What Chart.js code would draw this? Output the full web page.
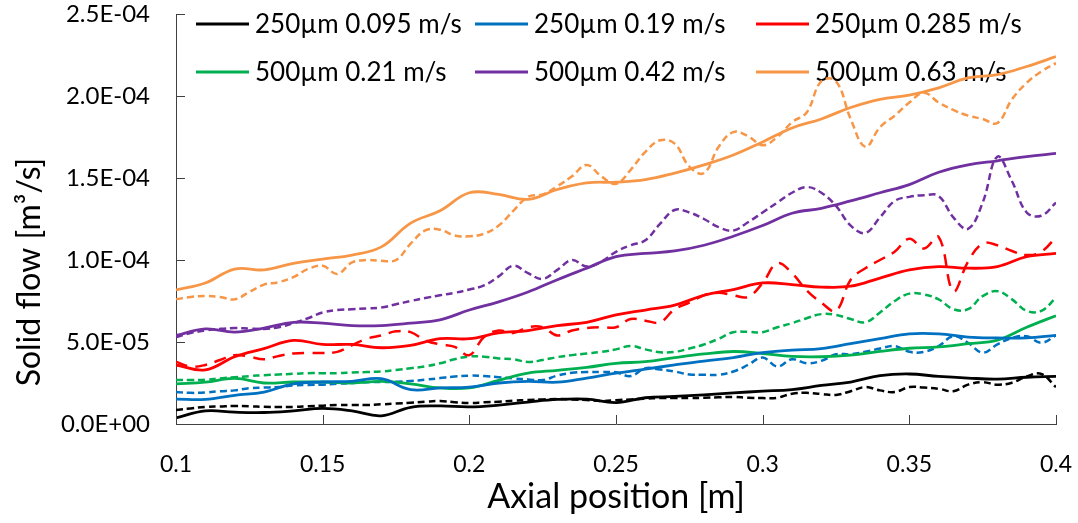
<!DOCTYPE html>
<html>
<head>
<meta charset="utf-8">
<title>Solid flow vs axial position</title>
<script src="https://cdn.jsdelivr.net/npm/chart.js@4.4.1/dist/chart.umd.min.js"></script>
<style>
  html, body { margin: 0; padding: 0; background: #fff; }
  #wrap { width: 1078px; height: 523px; }
</style>
</head>
<body>
<div id="wrap"><canvas id="flowChart"></canvas></div>
<script>
// axial positions [m]
const posCoarse = [0.10, 0.11, 0.12, 0.13, 0.14, 0.15, 0.16, 0.17, 0.18, 0.19, 0.20,
  0.21, 0.22, 0.23, 0.24, 0.25, 0.26, 0.27, 0.28, 0.29, 0.30,
  0.31, 0.32, 0.33, 0.34, 0.35, 0.36, 0.37, 0.38, 0.39, 0.40];
const posFine = [0.100, 0.105, 0.110, 0.115, 0.120, 0.125, 0.130, 0.135, 0.140, 0.145,
  0.150, 0.155, 0.160, 0.165, 0.170, 0.175, 0.180, 0.185, 0.190, 0.195,
  0.200, 0.205, 0.210, 0.215, 0.220, 0.225, 0.230, 0.235, 0.240, 0.245,
  0.250, 0.255, 0.260, 0.265, 0.270, 0.275, 0.280, 0.285, 0.290, 0.295,
  0.300, 0.305, 0.310, 0.315, 0.320, 0.325, 0.330, 0.335, 0.340, 0.345,
  0.350, 0.355, 0.360, 0.365, 0.370, 0.375, 0.380, 0.385, 0.390, 0.395, 0.400];

const xTicks = [0.1, 0.15, 0.2, 0.25, 0.3, 0.35, 0.4];
const yTicks = [0, 5e-5, 1e-4, 1.5e-4, 2e-4, 2.5e-4];

// solid flow, in units of 1e-5 m3/s
// solid lines (on posCoarse)
const s250_095 = [0.37, 0.8, 0.72, 0.7, 0.8, 0.95, 0.8, 0.5, 1.02, 1.1, 1.04, 1.15, 1.34, 1.5, 1.52, 1.3,
  1.6, 1.68, 1.78, 1.9, 2.0, 2.1, 2.35, 2.56, 2.95, 3.05, 2.9, 2.8, 2.74, 2.85, 2.9];
const s250_019 = [1.52, 1.5, 1.75, 1.95, 2.45, 2.56, 2.6, 2.76, 2.1, 2.2, 2.25, 2.5, 2.6, 2.55, 2.8, 3.1,
  3.35, 3.6, 3.84, 4.05, 4.35, 4.5, 4.6, 4.9, 5.2, 5.5, 5.5, 5.3, 5.25, 5.25, 5.4];
const s250_0285 = [3.6, 3.3, 4.1, 4.6, 5.1, 4.85, 4.85, 4.65, 4.8, 5.2, 5.2, 5.55, 5.7, 6.0, 6.2, 6.65,
  6.95, 7.25, 7.85, 8.2, 8.6, 8.5, 8.35, 8.4, 8.9, 9.4, 9.6, 9.5, 9.6, 10.2, 10.4];
const s500_021 = [2.45, 2.55, 2.78, 2.5, 2.56, 2.56, 2.5, 2.6, 2.45, 2.2, 2.2, 2.66, 3.1, 3.27, 3.45, 3.7,
  3.8, 4.05, 4.27, 4.42, 4.3, 4.12, 4.1, 4.2, 4.43, 4.62, 4.7, 4.9, 5.12, 5.9, 6.6];
const s500_042 = [5.4, 5.8, 5.6, 5.85, 6.2, 6.15, 6.0, 6.0, 6.15, 6.35, 6.95, 7.45, 8.05, 8.8, 9.5, 10.2,
  10.4, 10.55, 10.9, 11.45, 12.1, 12.85, 13.15, 13.6, 14.1, 14.6, 15.35, 15.8, 16.05, 16.3, 16.5];
const s500_063 = [8.17, 8.6, 9.45, 9.4, 9.8, 10.06, 10.3, 10.8, 12.25, 13.0, 14.1, 14.0, 13.7, 14.3, 14.7, 14.75,
  14.9, 15.3, 15.8, 16.4, 17.2, 18.05, 18.6, 19.3, 19.8, 20.06, 20.5, 21.1, 21.3, 21.8, 22.4];

// dashed lines (on posFine)
const d250_095 = [0.85, 0.95, 1.04, 1.07, 1.1, 1.08, 1.05, 1.04, 1.04, 1.08, 1.12, 1.16, 1.16, 1.16, 1.2, 1.25,
  1.3, 1.36, 1.4, 1.33, 1.28, 1.32, 1.36, 1.42, 1.46, 1.5, 1.52, 1.5, 1.46, 1.4, 1.45, 1.5, 1.55, 1.58, 1.58,
  1.58, 1.6, 1.63, 1.65, 1.6, 1.58, 1.6, 1.85, 1.9, 1.83, 1.77, 2.0, 2.25, 2.05, 1.95, 2.25, 2.22, 2.15, 2.0,
  2.4, 2.55, 2.4, 2.52, 2.9, 3.05, 2.25];
const d250_019 = [1.95, 1.9, 1.92, 2.0, 2.05, 2.18, 2.22, 2.26, 2.35, 2.38, 2.4, 2.45, 2.5, 2.55, 2.56, 2.58,
  2.62, 2.7, 2.8, 2.9, 2.95, 2.92, 2.85, 2.78, 2.72, 2.68, 2.95, 3.12, 3.17, 3.17, 3.15, 2.92, 3.4, 3.32, 3.2,
  3.02, 3.0, 3.0, 3.2, 3.6, 4.05, 3.5, 3.95, 3.7, 3.85, 4.25, 4.25, 4.4, 4.6, 4.75, 4.4, 4.4, 4.75, 5.35,
  4.95, 4.35, 4.85, 5.25, 5.35, 4.95, 5.4];
const d250_0285 = [3.8, 3.5, 3.6, 3.9, 4.2, 4.1, 3.95, 4.15, 4.3, 4.33, 4.33, 4.4, 4.8, 5.2, 5.4, 5.65,
  5.6, 5.1, 4.85, 4.7, 4.2, 5.3, 5.7, 5.55, 5.9, 5.9, 5.4, 5.7, 5.85, 5.9, 5.9, 6.4, 6.3, 6.2, 7.0,
  7.4, 7.85, 8.0, 7.85, 7.75, 8.6, 9.8, 9.2, 8.15, 7.4, 6.9, 8.8, 9.5, 10.0, 10.5, 11.3, 10.7, 11.4, 8.1,
  9.9, 11.0, 10.9, 10.55, 10.3, 10.5, 11.4];
const d500_021 = [2.68, 2.68, 2.7, 2.78, 2.85, 2.92, 2.98, 3.02, 3.06, 3.1, 3.1, 3.1, 3.14, 3.17, 3.2, 3.29,
  3.4, 3.52, 3.7, 3.95, 4.12, 4.1, 4.0, 3.95, 3.78, 3.9, 4.08, 4.2, 4.3, 4.4, 4.55, 4.76, 4.55, 4.38, 4.4,
  4.6, 4.85, 5.2, 5.6, 5.62, 5.6, 5.9, 6.15, 6.45, 6.7, 6.65, 6.4, 6.2, 6.8, 7.5, 7.95, 7.9, 7.6, 7.0,
  7.0, 7.8, 8.1, 7.6, 6.9, 6.9, 7.7];
const d500_042 = [5.3, 5.55, 5.7, 5.8, 5.85, 5.82, 5.8, 5.9, 6.15, 6.45, 6.8, 6.95, 7.0, 7.05, 7.1, 7.3,
  7.5, 7.68, 7.85, 8.0, 8.2, 8.45, 9.0, 9.65, 9.2, 8.85, 9.4, 10.0, 9.6, 9.9, 10.5, 10.9, 11.2, 12.2, 13.05,
  12.9, 12.5, 12.0, 11.8, 12.3, 12.9, 13.5, 14.1, 14.45, 14.1, 13.3, 12.1, 11.65, 12.6, 13.6, 13.85, 13.95,
  13.9, 12.6, 11.9, 13.5, 16.3, 14.8, 12.9, 12.7, 13.5];
const d500_063 = [7.6, 7.75, 7.8, 7.75, 7.6, 8.05, 8.5, 8.65, 8.95, 9.45, 9.65, 9.15, 9.85, 10.0, 9.95, 10.0,
  11.0, 11.8, 11.85, 11.5, 11.45, 11.6, 12.1, 13.0, 13.85, 14.0, 14.5, 15.1, 15.8, 15.1, 14.65, 15.5, 16.6,
  17.3, 17.1, 15.7, 15.3, 16.9, 17.8, 17.55, 17.0, 17.5, 18.4, 19.0, 20.9, 20.9, 18.6, 16.9, 18.1, 18.8,
  19.6, 20.2, 19.6, 19.15, 18.8, 18.6, 18.35, 19.8, 20.8, 21.5, 22.0];

const seriesNames = ['250µm 0.095 m/s', '250µm 0.19 m/s', '250µm 0.285 m/s',
  '500µm 0.21 m/s', '500µm 0.42 m/s', '500µm 0.63 m/s'];
const seriesColors = ['#000000', '#0070C0', '#FF0000', '#00B050', '#7030A0', '#F79646'];
const solidSeries = [s250_095, s250_019, s250_0285, s500_021, s500_042, s500_063];
const dashedSeries = [d250_095, d250_019, d250_0285, d500_021, d500_042, d500_063];

const FONT = 'Lato';
const Y_TITLE = 'Solid flow [m³/s]';

function toPoints(xs, vals) {
  return vals.map((v, i) => ({ x: xs[i], y: v * 1e-5 }));
}

function sciLabel(v) {
  const [m, e] = Number(v).toExponential(1).split('e');
  const n = parseInt(e, 10);
  return m + 'E' + (n < 0 ? '-' : '+') + String(Math.abs(n)).padStart(2, '0');
}

const datasets = [];
solidSeries.forEach((vals, i) => {
  datasets.push({
    label: seriesNames[i],
    data: toPoints(posCoarse, vals),
    borderColor: seriesColors[i],
    borderWidth: 2.8,
    pointRadius: 0,
    tension: 0.4,
    fill: false
  });
});
dashedSeries.forEach((vals, i) => {
  datasets.push({
    label: seriesNames[i] + ' (dashed)',
    data: toPoints(posFine, vals),
    borderColor: seriesColors[i],
    borderWidth: 2.5,
    borderDash: i === 2 ? [12, 8] : [7, 4],
    pointRadius: 0,
    tension: 0.4,
    fill: false
  });
});

// legend drawn Excel-style in a 3 x 2 grid inside the plot
const gridLegend = {
  id: 'gridLegend',
  beforeDatasetsDraw(chart) {
    const ctx = chart.ctx;
    const colX = [196, 475, 756];
    const rowY = [24, 72];
    ctx.save();
    ctx.font = '26px ' + FONT;
    ctx.textBaseline = 'middle';
    ctx.fillStyle = '#000';
    ctx.lineWidth = 3;
    seriesNames.forEach((name, i) => {
      const x = colX[i % 3];
      const y = rowY[Math.floor(i / 3)];
      ctx.strokeStyle = seriesColors[i];
      ctx.beginPath();
      ctx.moveTo(x, y);
      ctx.lineTo(x + 53, y);
      ctx.stroke();
      ctx.fillText(name, x + 59, y + 1);
    });
    ctx.restore();
  }
};

// tick marks pointing into the plot, plus the y title (sits a bit below centre, like the original)
const innerTicks = {
  id: 'innerTicks',
  afterDraw(chart) {
    const { ctx, chartArea: a, scales: { x, y } } = chart;
    ctx.save();
    ctx.strokeStyle = '#404040';
    ctx.lineWidth = 1;
    ctx.beginPath();
    xTicks.forEach(v => {
      const px = Math.round(x.getPixelForValue(v)) + 0.5;
      ctx.moveTo(px, a.bottom);
      ctx.lineTo(px, a.bottom - 9);
    });
    yTicks.forEach(v => {
      const py = Math.round(y.getPixelForValue(v)) + 0.5;
      ctx.moveTo(a.left, py);
      ctx.lineTo(a.left + 9, py);
    });
    ctx.stroke();

    ctx.translate(30, 272);
    ctx.rotate(-Math.PI / 2);
    ctx.font = '32px ' + FONT;
    ctx.fillStyle = '#000';
    ctx.textAlign = 'center';
    ctx.textBaseline = 'middle';
    ctx.fillText(Y_TITLE, 0, 0);
    ctx.restore();
  }
};

new Chart(document.getElementById('flowChart'), {
  type: 'line',
  data: { datasets },
  options: {
    responsive: true,
    maintainAspectRatio: false,
    animation: false,
    layout: { padding: { top: 14, right: 22, left: 0, bottom: 0 } },
    plugins: {
      legend: { display: false },
      tooltip: { enabled: false }
    },
    scales: {
      x: {
        type: 'linear',
        min: 0.1,
        max: 0.4,
        afterBuildTicks: s => { s.ticks = xTicks.map(v => ({ value: v })); },
        afterFit: s => {
          s.height = 99;
          s.paddingLeft = 0;
          s.paddingRight = 0;
        },
        grid: { display: false, drawTicks: false },
        border: { display: true, color: '#404040', width: 1 },
        ticks: {
          padding: 27,
          color: '#000',
          font: { family: FONT, size: 23 },
          maxRotation: 0,
          callback: v => String(Number(v.toFixed(2)))
        },
        title: {
          display: true,
          text: 'Axial position [m]',
          color: '#000',
          font: { family: FONT, size: 34 },
          padding: { top: 6, bottom: 6 }
        }
      },
      y: {
        min: 0,
        max: 2.5e-4,
        afterBuildTicks: s => { s.ticks = yTicks.map(v => ({ value: v })); },
        afterFit: s => {
          s.width = 176;
          s.paddingTop = 0;
          s.paddingBottom = 0;
        },
        grid: { display: false, drawTicks: false },
        border: { display: true, color: '#404040', width: 1 },
        ticks: {
          padding: 26,
          color: '#000',
          font: { family: FONT, size: 24 },
          callback: v => sciLabel(v)
        }
      }
    }
  },
  plugins: [gridLegend, innerTicks]
});
</script>
</body>
</html>
